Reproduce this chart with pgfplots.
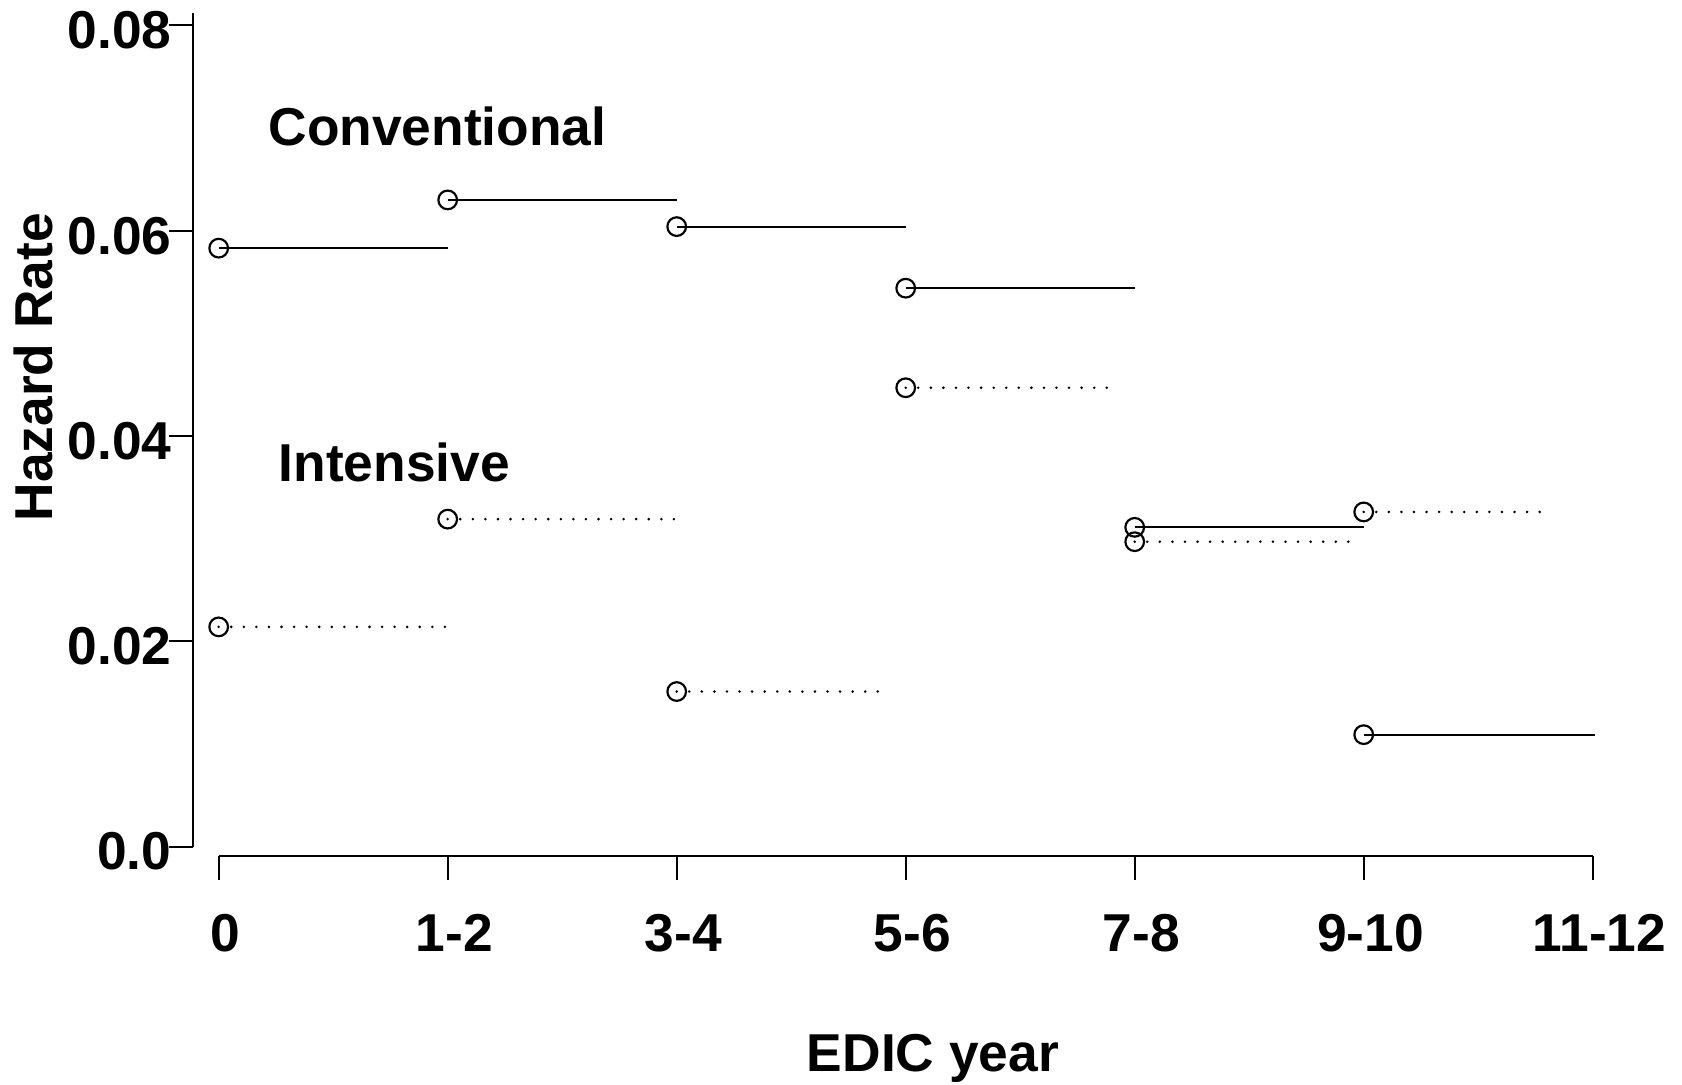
\documentclass[border=0pt]{standalone}
\usepackage{fontspec}
\setmainfont{Liberation Sans}
\usepackage{pgfplots}
\pgfplotsset{compat=1.18}
\newcommand{\lab}{\bfseries\fontsize{16}{19}\selectfont}
\begin{document}
\begin{tikzpicture}
\begin{axis}[
  scale only axis, width=419.9pt, height=249.1pt,
  xmin=-0.1122, xmax=6, ymin=-0.000906, ymax=0.08,
  axis x line*=bottom, axis y line*=left,
  axis line style={draw=none},
  clip=false,
  scaled y ticks=false,
  xtick={0,1,2,3,4,5,6}, xticklabels={0,1-2,3-4,5-6,7-8,9-10,11-12},
  ytick={0,0.02,0.04,0.06,0.08}, yticklabels={0.0,0.02,0.04,0.06,0.08},
  tick align=outside, major tick length=7.3pt,
  tick style={black, line width=0.6pt},
  tick label style={font=\lab, inner sep=0pt},
  xticklabel style={anchor=base, yshift=-21.4pt, xshift=2pt},
  yticklabel style={anchor=east, xshift=1.0pt, yshift=-1.5pt},
  /pgf/number format/assume math mode=true,
]
% Conventional (solid)
\addplot[black, line width=0.6pt] coordinates {(0,0.0583) (1,0.0583)};
\addplot[black, line width=0.6pt] coordinates {(1,0.0630) (2,0.0630)};
\addplot[black, line width=0.6pt] coordinates {(2,0.0604) (3,0.0604)};
\addplot[black, line width=0.6pt] coordinates {(3,0.0544) (4,0.0544)};
\addplot[black, line width=0.6pt] coordinates {(4,0.0311) (5,0.0311)};
\addplot[black, line width=0.6pt] coordinates {(5,0.0109) (6.01,0.0109)};
\addplot[only marks, mark=o, mark size=2.8pt, mark options={black, line width=0.65pt, solid}]
  coordinates {(0,0.0583) (1,0.0630) (2,0.0604) (3,0.0544) (4,0.0311) (5,0.0109)};
% Intensive (dotted)
\addplot[black, line width=0.85pt, line cap=round, dash pattern=on 0pt off 3.77pt] coordinates {(0,0.0214) (1.01,0.0214)};
\addplot[black, line width=0.85pt, line cap=round, dash pattern=on 0pt off 3.77pt] coordinates {(1,0.0319) (2.02,0.0319)};
\addplot[black, line width=0.85pt, line cap=round, dash pattern=on 0pt off 3.77pt] coordinates {(2,0.0151) (2.91,0.0151)};
\addplot[black, line width=0.85pt, line cap=round, dash pattern=on 0pt off 3.77pt] coordinates {(3,0.0447) (3.91,0.0447)};
\addplot[black, line width=0.85pt, line cap=round, dash pattern=on 0pt off 3.77pt] coordinates {(4,0.0297) (4.96,0.0297)};
\addplot[black, line width=0.85pt, line cap=round, dash pattern=on 0pt off 3.77pt] coordinates {(5,0.0326) (5.81,0.0326)};
\addplot[only marks, mark=o, mark size=2.8pt, mark options={black, line width=0.65pt, solid}]
  coordinates {(0,0.0214) (1,0.0319) (2,0.0151) (3,0.0447) (4,0.0297) (5,0.0326)};
% axis lines, R style
\draw[black, line width=0.6pt] (axis cs:-0.1122,0) -- (axis cs:-0.1122,0.0812);
\draw[black, line width=0.6pt] (axis cs:0,-0.000906) -- (axis cs:6,-0.000906);
% labels
\node[anchor=base west, font=\lab, inner sep=0pt] at (axis cs:0.215,0.06835) {Conventional};
\node[anchor=base west, font=\lab, inner sep=0pt] at (axis cs:0.259,0.03556) {Intensive};
\node[anchor=base, font=\lab, inner sep=0pt] at (axis cs:3.119,-0.02192) {EDIC year};
\node[rotate=90, anchor=base, font=\lab, inner sep=0pt] at (axis cs:-0.7236,0.04671) {Hazard Rate};
\coordinate (tl) at (axis cs:-0.955,0.08248);
\coordinate (br) at (axis cs:6.390,-0.02314);
\end{axis}
\pgfresetboundingbox
\path[use as bounding box] (tl) rectangle (br);
\end{tikzpicture}
\end{document}
